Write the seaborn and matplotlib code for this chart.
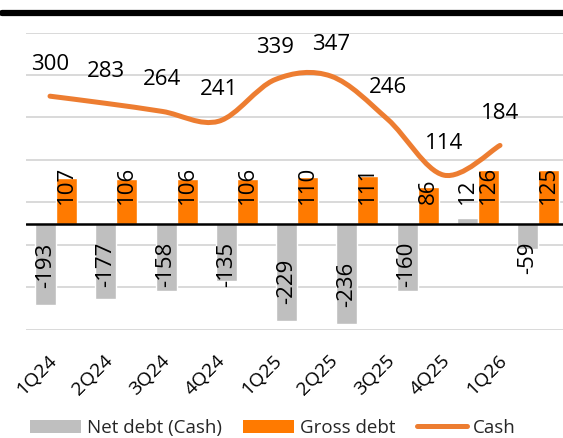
import numpy as np
import pandas as pd
import matplotlib
matplotlib.use("Agg")
import matplotlib.pyplot as plt
import matplotlib.transforms as mtransforms
import seaborn as sns
from matplotlib.path import Path
from matplotlib.patches import PathPatch, Patch
from matplotlib.lines import Line2D

quarters = ["1Q24", "2Q24", "3Q24", "4Q24", "1Q25", "2Q25", "3Q25", "4Q25", "1Q26"]
net_debt = [-193, -177, -158, -135, -229, -236, -160, 12, -59]
gross_debt = [107, 106, 106, 106, 110, 111, 86, 126, 125]
cash = [300, 283, 264, 241, 339, 347, 246, 114, 184]
series_names = ["Net debt (Cash)", "Gross debt", "Cash"]

GREY = "#BFBFBF"
ORANGE = "#FF7A00"
LINE = "#ED7D31"

sns.set_theme(style="white")
plt.rcParams["font.family"] = ["Open Sans", "DejaVu Sans"]

W, H = 563, 438
fig = plt.figure(figsize=(W / 100, H / 100), dpi=100)

zero_px = 223.5
ppu = 0.4244
top_px = zero_px - 450 * ppu
bot_px = zero_px + 250 * ppu
left_px = 26
ax = fig.add_axes([left_px / W, 1 - bot_px / H, 1 - left_px / W, (bot_px - top_px) / H])

df = pd.DataFrame({
    "quarter": quarters * 2,
    "value": net_debt + gross_debt,
    "series": [series_names[0]] * len(quarters) + [series_names[1]] * len(quarters),
})
sns.barplot(data=df, x="quarter", y="value", hue="series", order=quarters,
            hue_order=series_names[:2], palette=[GREY, ORANGE], width=0.7,
            saturation=1, legend=False, ax=ax, zorder=2)

cat_px = 60.25
ax.set_xlim(-0.5, -0.5 + (W - left_px) / cat_px)
ax.set_ylim(-250, 450)
ax.set_yticks(np.arange(-250, 451, 100))
ax.set_yticklabels([])
ax.tick_params(axis="y", length=0)
ax.grid(axis="y", color="#D9D9D9", lw=1.4, zorder=0)
ax.set_axisbelow(True)
for s in ax.spines.values():
    s.set_visible(False)
ax.axhline(0, color="black", lw=1.8, zorder=3)
ax.set_xlabel("")
ax.set_ylabel("")
ax.set_xticks(range(len(quarters)))
ax.set_xticklabels([])
ax.tick_params(axis="x", length=0)

# bar labels
LAB_FS = 16
fig.canvas.draw()
renderer = fig.canvas.get_renderer()
inv = ax.transData.inverted()
for i, (nd, gd) in enumerate(zip(net_debt, gross_debt)):
    xg = i - 0.175
    xo = i + 0.175
    ax.text(xo, 45, f"{gd}", rotation=90, ha="center", va="bottom",
            fontsize=LAB_FS, color="black", zorder=4)
    if nd >= 0:
        ax.text(xg, 45, f"{nd}", rotation=90, ha="center", va="bottom",
                fontsize=LAB_FS, color="black", zorder=4)
    else:
        t = ax.text(xg, -43, f"{nd}", rotation=90, ha="center", va="top",
                    fontsize=LAB_FS, color="black", zorder=4)
        bb = t.get_window_extent(renderer)
        ybottom = inv.transform((bb.x0, bb.y0))[1]
        if ybottom > nd + 40:
            t.set_y(nd + 40)
            t.set_va("bottom")

# cash line and category axis on their own scale
ax2 = ax.twiny()
line_px = 56.25
x0 = -(50 - left_px) / line_px
ax2.set_xlim(x0, x0 + (W - left_px) / line_px)
ax2.set_ylim(-250, 450)
for s in ax2.spines.values():
    s.set_visible(False)
ax2.xaxis.set_ticks_position("bottom")
ax2.set_xticks(range(len(quarters)))
ax2.set_xticklabels(quarters, rotation=45, ha="right", va="center",
                    rotation_mode="anchor", fontsize=14, color="black")
ax2.tick_params(axis="x", length=0, pad=20, top=False, labeltop=False,
                bottom=True, labelbottom=True)
ax2.grid(False)
shift = mtransforms.ScaledTranslation(4 / 100, 0, fig.dpi_scale_trans)
for lab in ax2.get_xticklabels():
    lab.set_transform(lab.get_transform() + shift)

xs = np.arange(len(cash), dtype=float)
ys = np.array(cash, dtype=float)
pts = np.column_stack([xs, ys])
verts = [pts[0]]
codes = [Path.MOVETO]
n = len(pts)
for k in range(n - 1):
    p0 = pts[k - 1] if k > 0 else pts[k]
    p1 = pts[k]
    p2 = pts[k + 1]
    p3 = pts[k + 2] if k + 2 < n else pts[k + 1]
    c1 = p1 + (p2 - p0) / 6
    c2 = p2 - (p3 - p1) / 6
    verts += [c1, c2, p2]
    codes += [Path.CURVE4] * 3
ax2.add_patch(PathPatch(Path(verts, codes), facecolor="none", edgecolor=LINE,
                        lw=3.6, capstyle="round", joinstyle="round", zorder=5))
for xi, v in zip(xs, cash):
    ax2.annotate(f"{v}", (xi, v), xytext=(0, 23), textcoords="offset points",
                 ha="center", va="center", fontsize=LAB_FS, color="black", zorder=6)

# top black rule
fig.add_artist(Line2D([2 / W, 1], [1 - 12.5 / H] * 2, color="black", lw=4.5))

handles = [Patch(facecolor=GREY, edgecolor="none"),
           Patch(facecolor=ORANGE, edgecolor="none"),
           Line2D([0], [0], color=LINE, lw=3.6, solid_capstyle="round")]
fig.legend(handles, series_names, loc="center", bbox_to_anchor=(273 / W, 1 - 428 / H),
           ncol=3, frameon=False, fontsize=13.5, handlelength=2.7, handleheight=0.75,
           handletextpad=0.3, columnspacing=1.15, borderpad=0)

fig.savefig("out.png", dpi=100)
